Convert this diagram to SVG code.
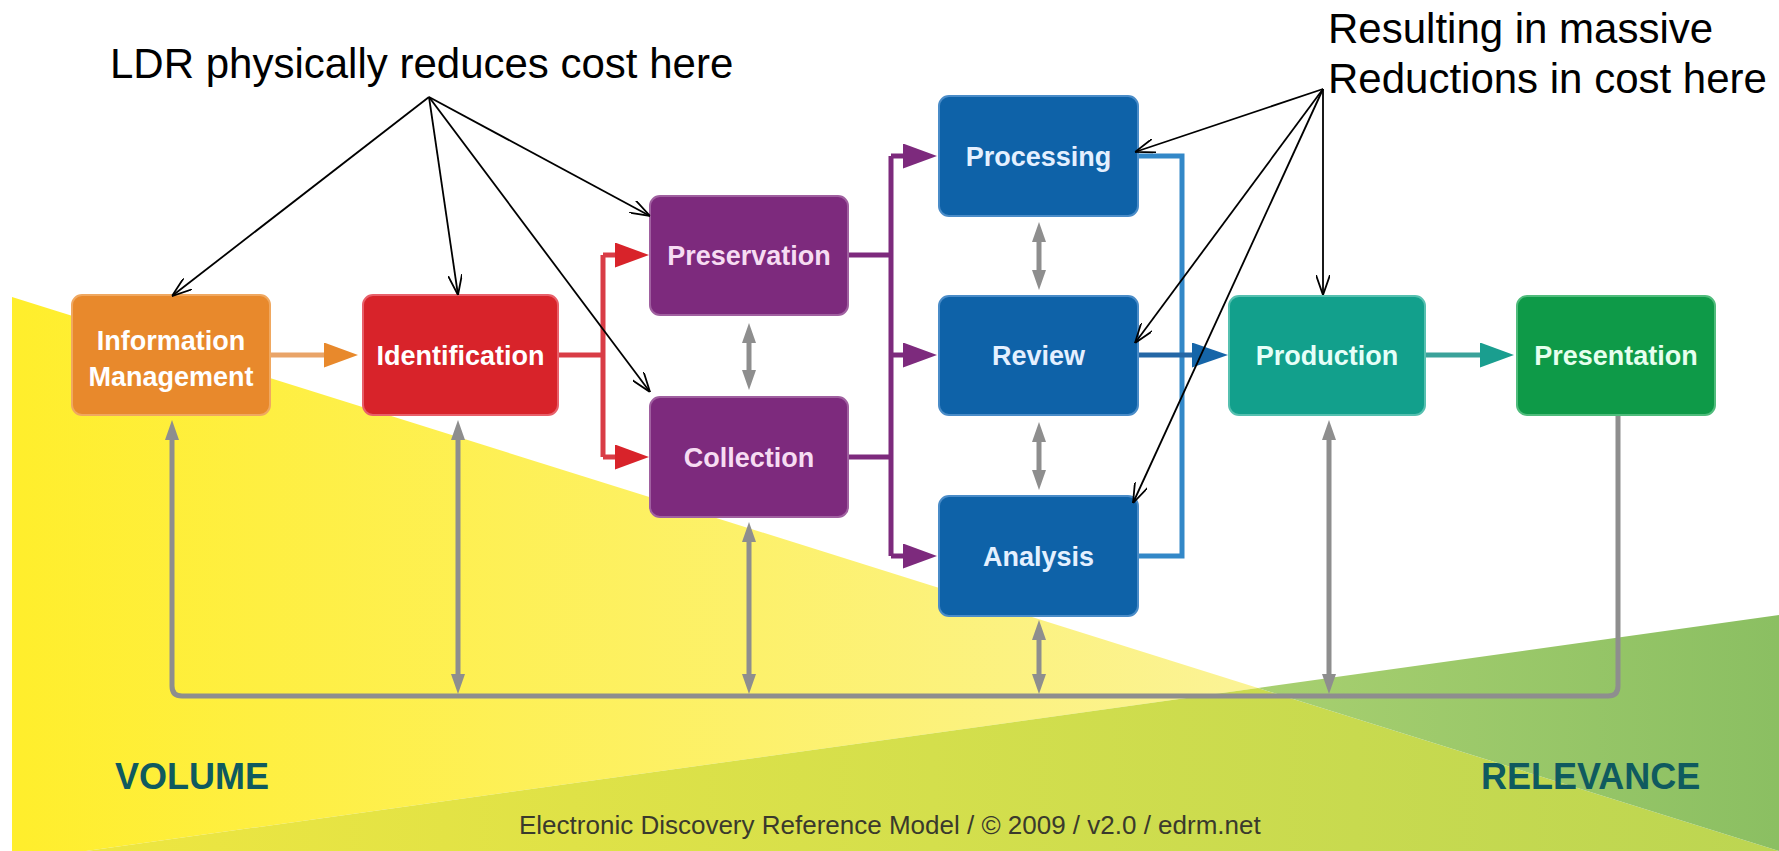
<svg xmlns="http://www.w3.org/2000/svg" width="1779" height="851" viewBox="0 0 1779 851">
<defs>
<style>
.lbl{font-family:"Liberation Sans",Arial,sans-serif;font-weight:bold;font-size:27px;fill:#ffffff;text-anchor:middle}
.note{font-family:"Liberation Sans",Arial,sans-serif;font-size:42px;fill:#000000}
.axis{font-family:"Liberation Sans",Arial,sans-serif;font-weight:bold;font-size:36px;fill:#0f5a5f}
.credit{font-family:"Liberation Sans",Arial,sans-serif;font-size:26px;fill:#3a3a2c}
.box{stroke-width:2}
.ann{stroke:#000;stroke-width:1.8;fill:none;marker-end:url(#open)}
.gray{stroke:#8e8e8e;stroke-width:5;fill:none}
.dbl{marker-start:url(#gh);marker-end:url(#gh)}
</style>
<linearGradient id="gYel" gradientUnits="userSpaceOnUse" x1="12" y1="0" x2="1258" y2="0">
<stop offset="0" stop-color="#ffee2c"/><stop offset="1" stop-color="#fbf396"/>
</linearGradient>
<linearGradient id="gOv" gradientUnits="userSpaceOnUse" x1="86" y1="0" x2="1779" y2="0">
<stop offset="0" stop-color="#eee640"/><stop offset="0.5" stop-color="#d4df4c"/><stop offset="1" stop-color="#bcd552"/>
</linearGradient>
<linearGradient id="gGrn" gradientUnits="userSpaceOnUse" x1="1258" y1="0" x2="1779" y2="0">
<stop offset="0" stop-color="#a8d070"/><stop offset="1" stop-color="#8bbf62"/>
</linearGradient>
<marker id="open" viewBox="0 0 20 14" refX="20" refY="7" markerWidth="20" markerHeight="14" markerUnits="userSpaceOnUse" orient="auto">
<path d="M0,0 L20,7 L0,14" fill="none" stroke="#000" stroke-width="1.8"/>
</marker>
<marker id="ao" viewBox="0 0 34 25" refX="0" refY="12.5" markerWidth="34" markerHeight="25" markerUnits="userSpaceOnUse" orient="auto">
<path d="M0,0 L34,12.5 L0,25 z" fill="#e8892c"/>
</marker>
<marker id="ar" viewBox="0 0 34 25" refX="0" refY="12.5" markerWidth="34" markerHeight="25" markerUnits="userSpaceOnUse" orient="auto">
<path d="M0,0 L34,12.5 L0,25 z" fill="#d8232a"/>
</marker>
<marker id="ap" viewBox="0 0 34 25" refX="0" refY="12.5" markerWidth="34" markerHeight="25" markerUnits="userSpaceOnUse" orient="auto">
<path d="M0,0 L34,12.5 L0,25 z" fill="#7d2a7d"/>
</marker>
<marker id="ab" viewBox="0 0 36 25" refX="0" refY="12.5" markerWidth="36" markerHeight="25" markerUnits="userSpaceOnUse" orient="auto">
<path d="M0,0 L36,12.5 L0,25 z" fill="#1565a8"/>
</marker>
<marker id="at" viewBox="0 0 34 25" refX="0" refY="12.5" markerWidth="34" markerHeight="25" markerUnits="userSpaceOnUse" orient="auto">
<path d="M0,0 L34,12.5 L0,25 z" fill="#1a9e8f"/>
</marker>
<marker id="gh" viewBox="0 0 20 14" refX="0" refY="7" markerWidth="20" markerHeight="14" markerUnits="userSpaceOnUse" orient="auto-start-reverse">
<path d="M0,0 L20,7 L0,14 z" fill="#8e8e8e"/>
</marker>
</defs>

<rect x="0" y="0" width="1779" height="851" fill="#ffffff"/>
<g id="background">
<polygon points="12,297 1258,688 86,851 12,851" fill="url(#gYel)"/>
<polygon points="86,851 1258,688 1779,851" fill="url(#gOv)"/>
<polygon points="1258,688 1779,615 1779,851" fill="url(#gGrn)"/>
</g>

<g id="connectors">
<path d="M270,355 H324" stroke="#e9a468" stroke-width="5" fill="none" marker-end="url(#ao)"/>
<path d="M558,355 H603 M603,255 V457" stroke="#d93c46" stroke-width="5" fill="none"/>
<path d="M603,255 H615" stroke="#d93c46" stroke-width="5" fill="none" marker-end="url(#ar)"/>
<path d="M603,457 H615" stroke="#d93c46" stroke-width="5" fill="none" marker-end="url(#ar)"/>
<path d="M848,255 H891 M848,457 H891 M891,156 V556" stroke="#7d2a7d" stroke-width="5" fill="none"/>
<path d="M891,156 H903" stroke="#7d2a7d" stroke-width="5" fill="none" marker-end="url(#ap)"/>
<path d="M891,355 H903" stroke="#7d2a7d" stroke-width="5" fill="none" marker-end="url(#ap)"/>
<path d="M891,556 H903" stroke="#7d2a7d" stroke-width="5" fill="none" marker-end="url(#ap)"/>
<path d="M1138,156 H1182 V556 H1138" stroke="#3388c8" stroke-width="5" fill="none"/>
<path d="M1138,355 H1192" stroke="#2467a6" stroke-width="5" fill="none" marker-end="url(#ab)"/>
<path d="M1425,355 H1480" stroke="#3aa29a" stroke-width="5" fill="none" marker-end="url(#at)"/>
<path class="gray" d="M172,440 V686 Q172,696 182,696 H1608 Q1618,696 1618,686 V415" marker-start="url(#gh)"/>
<path class="gray dbl" d="M749,343 V370"/>
<path class="gray dbl" d="M1039,242 V270"/>
<path class="gray dbl" d="M1039,442 V470"/>
<path class="gray dbl" d="M1039,640 V674"/>
<path class="gray dbl" d="M458,440 V674"/>
<path class="gray dbl" d="M749,542 V674"/>
<path class="gray dbl" d="M1329,440 V674"/>
</g>

<g id="node-information-management">
<rect class="box" x="72" y="295" width="198" height="120" rx="10" fill="#e8892c" stroke="#f0a860"/>
<text class="lbl" x="171" y="350">Information</text>
<text class="lbl" x="171" y="386">Management</text>
</g>
<g id="node-identification">
<rect class="box" x="363" y="295" width="195" height="120" rx="10" fill="#d8232a" stroke="#e8606a"/>
<text class="lbl" x="460.5" y="365">Identification</text>
</g>
<g id="node-preservation">
<rect class="box" x="650" y="196" width="198" height="119" rx="10" fill="#7d2a7d" stroke="#a060a0"/>
<text class="lbl" x="749" y="265" fill="#f6dcf2" style="fill:#f6dcf2">Preservation</text>
</g>
<g id="node-collection">
<rect class="box" x="650" y="397" width="198" height="120" rx="10" fill="#7d2a7d" stroke="#a060a0"/>
<text class="lbl" x="749" y="467" style="fill:#f6dcf2">Collection</text>
</g>
<g id="node-processing">
<rect class="box" x="939" y="96" width="199" height="120" rx="10" fill="#0e62a8" stroke="#4a8cc8"/>
<text class="lbl" x="1038.5" y="166" style="fill:#e4f0ff">Processing</text>
</g>
<g id="node-review">
<rect class="box" x="939" y="296" width="199" height="119" rx="10" fill="#0e62a8" stroke="#4a8cc8"/>
<text class="lbl" x="1038.5" y="365" style="fill:#e4f0ff">Review</text>
</g>
<g id="node-analysis">
<rect class="box" x="939" y="496" width="199" height="120" rx="10" fill="#0e62a8" stroke="#4a8cc8"/>
<text class="lbl" x="1038.5" y="566" style="fill:#e4f0ff">Analysis</text>
</g>
<g id="node-production">
<rect class="box" x="1229" y="296" width="196" height="119" rx="10" fill="#12a08c" stroke="#56c0b0"/>
<text class="lbl" x="1327" y="365" style="fill:#e6fff8">Production</text>
</g>
<g id="node-presentation">
<rect class="box" x="1517" y="296" width="198" height="119" rx="10" fill="#0e9a48" stroke="#50bc7c"/>
<text class="lbl" x="1616" y="365" style="fill:#e6ffee">Presentation</text>
</g>

<g id="labels">
<text class="axis" x="115" y="789">VOLUME</text>
<text class="axis" x="1481" y="789">RELEVANCE</text>
<text class="credit" x="519" y="834">Electronic Discovery Reference Model / © 2009 / v2.0 / edrm.net</text>
</g>

<g id="annotations">
<text class="note" x="110" y="78">LDR physically reduces cost here</text>
<text class="note" x="1328" y="43">Resulting in massive</text>
<text class="note" x="1328" y="93">Reductions in cost here</text>
<path class="ann" d="M429,97 L172,296"/>
<path class="ann" d="M429,97 L458,295"/>
<path class="ann" d="M429,97 L650,216"/>
<path class="ann" d="M429,97 L650,392"/>
<path class="ann" d="M1323,89 L1135,152"/>
<path class="ann" d="M1323,89 L1135,343"/>
<path class="ann" d="M1323,89 L1133,503"/>
<path class="ann" d="M1323,89 L1323,295"/>
</g>
</svg>
